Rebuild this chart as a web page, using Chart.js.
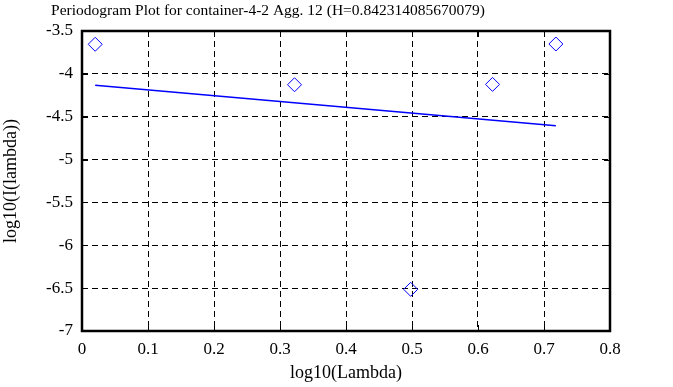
<!DOCTYPE html>
<html lang="en">
<head>
    <meta charset="UTF-8">
    <title>Periodogram Plot</title>
    <style>
        body { margin: 0; background: #fff; }
    </style>
</head>
<body>
    <canvas id="myChart" width="673" height="387"></canvas>
    <script src="https://cdn.jsdelivr.net/npm/chart.js"></script>
    <script>
        // values
        const lambdaLog = [0.02, 0.322, 0.498, 0.622, 0.718];
        const periodLog = [-3.655, -4.127, -6.514, -4.123, -3.652];
        // fitted line end points
        const fitX = [0.02, 0.718];
        const fitY = [-4.134, -4.606];

        const titleText = 'Periodogram Plot for container-4-2 Agg. 12 (H=0.842314085670079)';
        const xTitle = 'log10(Lambda)';
        const yTitle = 'log10(I(lambda))';

        const serif = "'Liberation Serif', 'DejaVu Serif', serif";
        const tickFont = { family: serif, size: 17 };
        const axisFont = { family: serif, size: 18 };
        Chart.defaults.color = '#000';
        Chart.defaults.font.family = serif;
        Chart.defaults.font.size = 16;

        const pts = lambdaLog.map((x, i) => ({ x: x, y: periodLog[i] }));
        const fit = fitX.map((x, i) => ({ x: x, y: fitY[i] }));
        const plain = v => String(Math.round(v * 10) / 10);

        // title drawn by hand so it can sit left of centre like the original
        const topTitle = {
            id: 'topTitle',
            afterDraw(chart) {
                const c = chart.ctx;
                c.save();
                c.font = '15.5px ' + serif;
                c.fillStyle = '#000';
                c.textAlign = 'center';
                c.textBaseline = 'alphabetic';
                c.fillText(titleText, 268, 15);
                c.restore();
            }
        };

        // solid box round the plot plus short inward ticks
        const frame = {
            id: 'frame',
            afterDatasetsDraw(chart) {
                const { ctx, chartArea: a, scales } = chart;
                ctx.save();
                ctx.strokeStyle = '#000';
                ctx.lineWidth = 1;
                ctx.beginPath();
                scales.x.ticks.forEach(t => {
                    const px = Math.round(scales.x.getPixelForValue(t.value)) + 0.5;
                    ctx.moveTo(px, a.top); ctx.lineTo(px, a.top + 6);
                    ctx.moveTo(px, a.bottom); ctx.lineTo(px, a.bottom - 6);
                });
                scales.y.ticks.forEach(t => {
                    const py = Math.round(scales.y.getPixelForValue(t.value)) + 0.5;
                    ctx.moveTo(a.left, py); ctx.lineTo(a.left + 6, py);
                    ctx.moveTo(a.right, py); ctx.lineTo(a.right - 6, py);
                });
                ctx.stroke();
                ctx.lineWidth = 2.5;
                ctx.strokeRect(a.left, a.top, a.right - a.left, a.bottom - a.top);
                ctx.restore();
            }
        };

        new Chart(document.getElementById('myChart'), {
            type: 'scatter',
            data: {
                datasets: [
                    {
                        data: pts,
                        pointStyle: 'rectRot',
                        pointRadius: 7,
                        pointHoverRadius: 7,
                        borderColor: '#0000ff',
                        backgroundColor: 'transparent',
                        borderWidth: 1
                    },
                    {
                        type: 'line',
                        data: fit,
                        borderColor: '#0000ff',
                        borderWidth: 1.5,
                        pointRadius: 0,
                        fill: false
                    }
                ]
            },
            plugins: [topTitle, frame],
            options: {
                responsive: false,
                animation: false,
                layout: { padding: { top: 31, right: 63, bottom: 0, left: 0 } },
                plugins: {
                    legend: { display: false },
                    tooltip: { enabled: false }
                },
                scales: {
                    x: {
                        type: 'linear',
                        min: 0,
                        max: 0.8,
                        afterFit(scale) { scale.height = 56; },
                        ticks: { stepSize: 0.1, padding: 8, maxRotation: 0, font: tickFont, color: '#000', callback: plain },
                        grid: { color: '#000', lineWidth: 1, drawTicks: false },
                        border: { display: false, dash: [6, 4] },
                        title: { display: true, text: xTitle, font: axisFont, color: '#000', padding: { top: 0, bottom: 3 } }
                    },
                    y: {
                        min: -7,
                        max: -3.5,
                        afterFit(scale) { scale.width = 82; },
                        ticks: { stepSize: 0.5, padding: 9, font: tickFont, color: '#000', callback: plain },
                        grid: { color: '#000', lineWidth: 1, drawTicks: false },
                        border: { display: false, dash: [6, 4] },
                        title: { display: true, text: yTitle, font: axisFont, color: '#000', padding: { top: 0, bottom: 0 } }
                    }
                }
            }
        });
    </script>
</body>
</html>
